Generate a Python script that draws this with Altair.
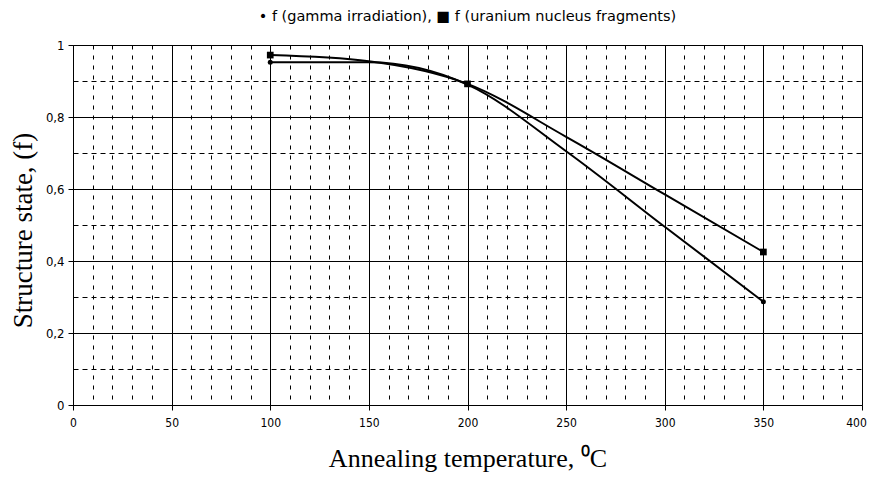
import altair as alt
import pandas as pd

# Data
temps = [100, 150, 200, 250, 300, 350]
gamma = [0.952, 0.952, 0.890, 0.705, 0.495, 0.287]
uranium = [0.972, 0.955, 0.892, 0.745, 0.585, 0.425]
marker_temps = [100, 200, 350]

x_ticks = [0, 10, 20, 30, 40, 50, 60, 70, 80, 90, 100, 110, 120, 130, 140, 150,
           160, 170, 180, 190, 200, 210, 220, 230, 240, 250, 260, 270, 280, 290,
           300, 310, 320, 330, 340, 350, 360, 370, 380, 390, 400]
y_ticks = [0, 0.1, 0.2, 0.3, 0.4, 0.5, 0.6, 0.7, 0.8, 0.9, 1.0]

rows = []
for t, g, u in zip(temps, gamma, uranium):
    rows.append({"temp": t, "f": g, "series": "gamma", "marker": t in marker_temps})
    rows.append({"temp": t, "f": u, "series": "uranium", "marker": t in marker_temps})
df = pd.DataFrame(rows)

tick_font = "Liberation Sans Narrow, DejaVu Sans Condensed, Arial Narrow, sans-serif"
title_font = "Liberation Serif, Times New Roman, serif"

x_major = "datum.value % 50 === 0"
y_major = "round(datum.value * 10) % 2 === 0"

x_enc = alt.X(
    "temp:Q",
    scale=alt.Scale(domain=[0, 400], nice=False),
    axis=alt.Axis(
        values=x_ticks,
        labelExpr=x_major + " ? datum.label : ''",
        title="Annealing temperature, \u2070C",
        titleFont=title_font,
        titleFontSize=26,
        titleFontWeight="normal",
        titleColor="black",
        titlePadding=17,
        labelFont=tick_font,
        labelFontSize=12,
        labelColor="black",
        labelPadding=7,
        labelFlush=False,
        labelOffset={"condition": {"test": "datum.value === 400", "value": -6}, "value": 0},
        domainColor="black",
        tickColor="black",
        tickSize={"condition": {"test": x_major, "value": 5}, "value": 0},
        grid=True,
        gridColor="black",
        gridOpacity=1,
        gridWidth=1,
        gridDash={"condition": {"test": x_major, "value": []}, "value": [4, 6]},
    ),
)

y_enc = alt.Y(
    "f:Q",
    scale=alt.Scale(domain=[0, 1], nice=False),
    axis=alt.Axis(
        values=y_ticks,
        labelExpr=y_major + " ? replace(format(datum.value, '.1~f'), '.', ',') : ''",
        title="Structure state, (f)",
        titleFont=title_font,
        titleFontSize=27,
        titleFontWeight="normal",
        titleColor="black",
        titleX=-42,
        titleY=185,
        titleAngle=270,
        titleAlign="center",
        titleBaseline="alphabetic",
        labelFont=tick_font,
        labelFontSize=13,
        labelColor="black",
        labelPadding=4,
        domainColor="black",
        tickColor="black",
        tickSize={"condition": {"test": y_major, "value": 5}, "value": 0},
        grid=True,
        gridColor="black",
        gridOpacity=1,
        gridWidth=1,
        gridDash={"condition": {"test": y_major, "value": []}, "value": [5, 4]},
    ),
)

base = alt.Chart(df).encode(x=x_enc, y=y_enc)

lines = base.mark_line(color="black", strokeWidth=2, interpolate="monotone").encode(
    detail="series:N"
)

points = base.transform_filter("datum.marker").mark_point(
    filled=True, color="black", opacity=1
).encode(
    shape=alt.Shape(
        "series:N",
        scale=alt.Scale(domain=["gamma", "uranium"], range=["circle", "square"]),
        legend=None,
    ),
    size=alt.Size(
        "series:N",
        scale=alt.Scale(domain=["gamma", "uranium"], range=[25, 45]),
        legend=None,
    ),
)

chart = alt.layer(lines, points).properties(
    width=789,
    height=360,
    autosize=alt.AutoSizeParams(type="none"),
    padding={"left": 65, "top": 37, "right": 5, "bottom": 73},
    title=alt.TitleParams(
        text="\u2022 f (gamma irradiation), \u25a0 f (uranium nucleus fragments)",
        font="DejaVu Sans, Liberation Sans, sans-serif",
        fontSize=14.5,
        fontWeight="normal",
        color="black",
        anchor="middle",
        offset=15,
    ),
).configure_view(stroke="black", strokeWidth=1).configure(background="white")

chart.save("out.html", embed_options={"renderer": "svg", "actions": False})
